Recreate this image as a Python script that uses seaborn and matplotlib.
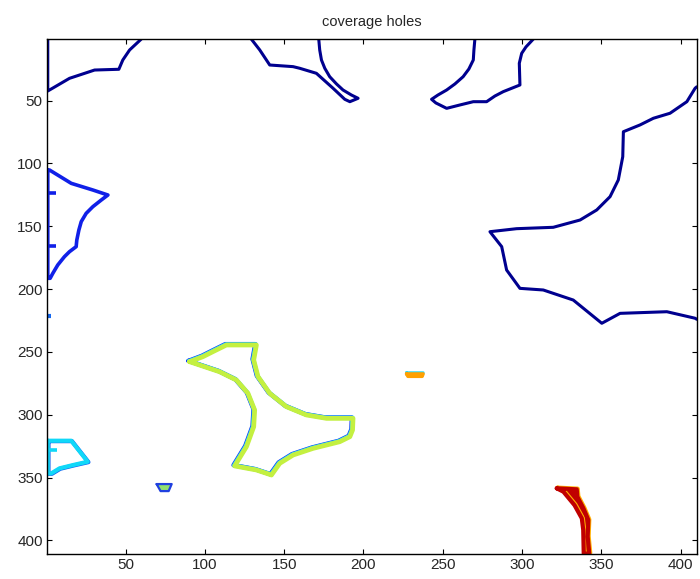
import matplotlib
matplotlib.use("Agg")
import matplotlib.pyplot as plt
import matplotlib.transforms as mtransforms
import seaborn as sns

# outlines of the coverage holes (x = column, y = row of the 410x410 map)
hole1_x = [59.9, 52.6, 48.3, 45.8, 30.5, 14.7, 1.0, 1.0]
hole1_y = [1.0, 9.6, 17.6, 25.0, 25.6, 32.2, 42.3, 1.0]

hole2_x = [129.3, 134.6, 140.9, 155.6, 159.8, 170.3, 180.8, 188.2, 191.4,
           196.6, 192.4, 187.1, 183.0, 178.7, 175.6, 173.5, 172.4, 171.8]
hole2_y = [1.0, 9.6, 21.6, 22.9, 24.2, 28.2, 40.1, 48.9, 50.8,
           48.1, 45.5, 41.5, 36.7, 30.9, 24.2, 17.6, 9.6, 1.0]

hole3_x = [270.2, 269.6, 269.2, 266.4, 262.8, 257.6, 252.4, 246.9, 242.9, 245.6,
           252.4, 260.8, 269.2, 277.6, 282.8, 288.1, 298.6, 298.2, 299.7, 302.4, 307.0]
hole3_y = [1.0, 9.6, 17.6, 24.8, 30.9, 36.7, 41.5, 45.5, 48.9, 51.8,
           56.1, 53.4, 50.8, 50.8, 46.3, 42.8, 37.5, 20.2, 12.3, 7.2, 1.0]

hole4_x = [410.0, 409.0, 403.8, 393.2, 382.7, 374.3, 363.8, 363.4, 360.6, 355.4,
           347.0, 336.5, 319.6, 296.5, 279.7, 287.1, 290.2, 298.6, 313.3, 332.2,
           350.2, 361.7, 391.2, 409.0, 410.0]
hole4_y = [39.0, 40.1, 50.8, 60.0, 64.0, 69.3, 74.7, 94.6, 113.1, 126.4,
           137.0, 145.0, 150.8, 151.9, 154.3, 166.2, 184.8, 199.4, 200.7, 208.7,
           227.2, 219.3, 218.0, 223.2, 224.0]

hole5_x = [1.0, 2.1, 15.8, 29.4, 38.9, 34.7, 29.4, 25.2, 22.1, 20.6, 19.3,
           18.9, 14.7, 11.5, 7.3, 4.2, 2.5, 1.0, 1.0]
hole5_y = [105.2, 105.2, 115.8, 121.1, 125.1, 129.1, 134.4, 139.7, 146.3, 153.0, 161.0,
           166.2, 170.2, 174.2, 180.8, 187.4, 191.4, 191.4, 105.2]
hole5_stub_x = [1.0, 6.3, None, 1.0, 6.3]
hole5_stub_y = [123.7, 123.7, None, 165.4, 165.4]
hole6_x = [1.0, 2.8]
hole6_y = [221.2, 221.2]

hole7_x = [90.4, 98.8, 105.1, 113.6, 132.5, 130.8, 133.5, 140.9, 151.4, 164.0,
           176.7, 193.4, 193.1, 191.4, 185.0, 168.2, 155.6, 147.2, 142.0, 132.5,
           118.8, 126.2, 130.8, 131.4, 127.2, 119.9, 109.3, 90.4]
hole7_y = [257.8, 253.8, 249.8, 244.5, 244.5, 256.4, 269.7, 283.0, 293.6, 300.2,
           302.9, 302.9, 312.2, 317.5, 321.5, 326.8, 332.1, 338.7, 348.0, 344.0,
           340.8, 325.5, 309.6, 296.3, 283.0, 272.4, 265.8, 257.8]

hole8_x = [1.0, 15.8, 26.2, 16.8, 8.4, 3.2, 1.0, 1.0]
hole8_y = [320.7, 320.7, 337.4, 340.1, 342.7, 346.7, 346.7, 320.7]
hole8_stub_x = [1.0, 7.0]
hole8_stub_y = [328.1, 328.1]

hole9_x = [69.6, 79.1, 77.2, 72.1, 69.6]
hole9_y = [355.2, 355.2, 360.8, 360.8, 355.2]

hole10_x = [227.1, 237.6, 237.0, 228.0, 227.1]
hole10_y = [267.5, 267.5, 269.5, 269.5, 267.5]

hole11_x = [321.8, 334.4, 334.8, 338.6, 341.7, 341.3, 342.3, 338.8, 338.5,
            337.6, 333.0, 326.0, 321.8]
hole11_y = [358.6, 359.4, 365.3, 374.5, 383.8, 397.1, 410.5, 410.5, 391.8,
            382.5, 372.0, 361.3, 358.6]

sns.set_style("ticks")
plt.rcParams['font.family'] = ['Liberation Sans', 'DejaVu Sans']
plt.rcParams['xtick.direction'] = 'in'
plt.rcParams['ytick.direction'] = 'in'

fig = plt.figure(figsize=(7, 5.79), dpi=100)
ax = fig.add_axes([0.0671, 0.044, 0.9293, 0.8895])


def outline(x, y, color, lw, dx=0.0, dy=0.0):
    line = sns.lineplot(x=x, y=y, sort=False, estimator=None, color=color,
                        lw=lw, ax=ax, legend=False)
    if dx or dy:
        ln = line.lines[-1]
        ln.set_transform(ln.get_transform() + mtransforms.ScaledTranslation(
            dx / 72, dy / 72, fig.dpi_scale_trans))


def seg(x, y, color, lw):
    ax.plot(x, y, color=color, lw=lw, solid_capstyle='butt')


navy = '#00008F'
for hx, hy in [(hole1_x, hole1_y), (hole2_x, hole2_y), (hole3_x, hole3_y),
               (hole4_x, hole4_y)]:
    outline(hx, hy, navy, 2.2)

outline(hole5_x, hole5_y, '#1020E8', 2.6)
seg(hole5_stub_x, hole5_stub_y, '#1020E8', 2.6)
seg(hole6_x, hole6_y, '#1468F0', 3.0)

outline(hole7_x, hole7_y, '#1030F0', 3.2, dx=-0.8, dy=0.6)
outline(hole7_x, hole7_y, '#20D8F8', 3.2, dx=-0.4, dy=0.4)
outline(hole7_x, hole7_y, '#C4F040', 3.4)

outline(hole8_x, hole8_y, '#1060F0', 3.0, dx=0.5, dy=-0.3)
outline(hole8_x, hole8_y, '#10D8F8', 3.0)
seg(hole8_stub_x, hole8_stub_y, '#10D8F8', 2.6)

ax.fill(hole9_x, hole9_y, color='#90E070', lw=0)
outline(hole9_x, hole9_y, '#2040E0', 1.6)

outline(hole10_x, hole10_y, '#30D8F0', 2.2, dy=0.8)
outline(hole10_x, hole10_y, '#FFA000', 2.4)

ax.fill(hole11_x, hole11_y, color='#C00000', lw=0)
outline(hole11_x, hole11_y, '#FFB000', 3.2, dx=0.6, dy=0.4)
outline(hole11_x, hole11_y, '#C00000', 3.0)

ax.set_xlim(0.5, 410.5)
ax.set_ylim(410.5, 0.5)
ax.set_xticks(range(50, 401, 50))
ax.set_yticks(range(50, 401, 50))
ax.tick_params(axis='both', which='both', top=True, right=True, length=3.5,
               width=0.8, color='black', labelsize=11, pad=3)
for sp in ax.spines.values():
    sp.set_visible(True)
    sp.set_color('black')
    sp.set_linewidth(1.0)
    sp.set_zorder(5)
ax.set_xlabel('')
ax.set_ylabel('')
ax.set_title('coverage holes', fontsize=10.5, pad=9)

fig.savefig('out.png', dpi=100)
